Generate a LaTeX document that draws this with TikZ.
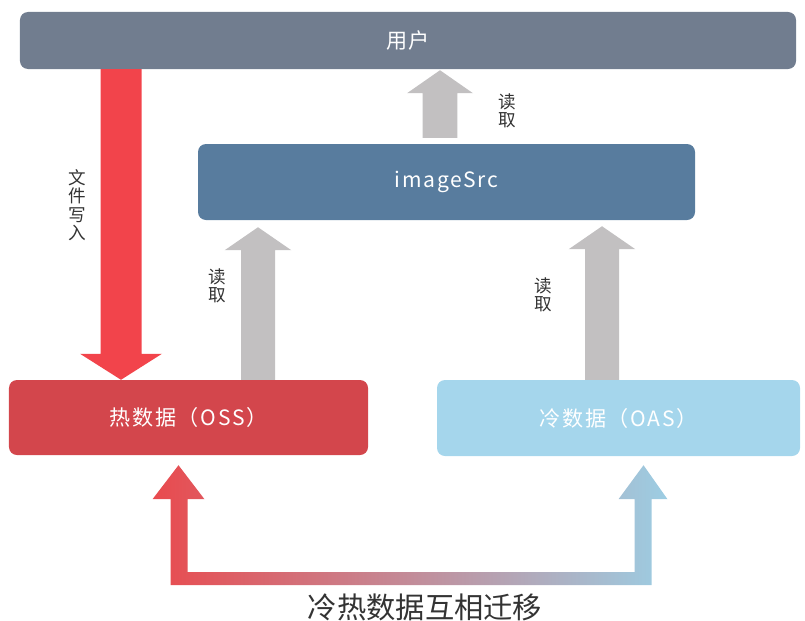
\documentclass[tikz,border=0pt]{standalone}
\usepackage{fontspec}
\setmainfont{Noto Sans CJK SC}
\usetikzlibrary{calc}

\definecolor{userbar}{HTML}{717D8F}
\definecolor{srcblue}{HTML}{587C9E}
\definecolor{hotred}{HTML}{D3464C}
\definecolor{coldblue}{HTML}{A5D6EC}
\definecolor{writered}{HTML}{F2444B}
\definecolor{readgray}{HTML}{C2C0C1}
\definecolor{migred}{HTML}{E94A4E}
\definecolor{miggray}{HTML}{8C8C8C}
\definecolor{migblue}{HTML}{9CCDE3}
\definecolor{labelgray}{HTML}{333333}

\tikzset{
  box/.style={rounded corners=2.4mm, inner sep=0pt, text=white,
    font=\fontsize{18}{20}\selectfont\addfontfeatures{LetterSpace=8}},
  lbl/.style={text=labelgray, align=center, font=\fontsize{15}{15.8}\selectfont},
  writearrow/.style={fill=writered},
  readarrow/.style={fill=readgray},
}

% block arrow: style, from, to, shaft half width, head half width, head length
\newcommand{\bigarrow}[6]{%
  \coordinate (ba) at ($(#3)!#6!(#2)$);
  \fill[#1] ($(#2)!#4!90:(#3)$) -- ($(ba)!#4!90:(#3)$) -- ($(ba)!#5!90:(#3)$) -- (#3)
    -- ($(ba)!#5!-90:(#3)$) -- ($(ba)!#4!-90:(#3)$) -- ($(#2)!#4!-90:(#3)$) -- cycle;}

\begin{document}
\begin{tikzpicture}[x=0.3mm,y=-0.3mm]
\useasboundingbox (0,0) rectangle (805,620);

% boxes
\node[box, fill=userbar, minimum width=232.8mm, minimum height=17.1mm] (user) at (408,40.5) {用户};
\node[box, fill=srcblue, minimum width=149.1mm, minimum height=22.8mm] (img) at (446.5,182) {imageSrc};
\node[box, fill=hotred, minimum width=107.7mm, minimum height=22.5mm] (hot) at (188.5,417.5) {热数据（OSS）};
\node[box, fill=coldblue, minimum width=108.9mm, minimum height=22.8mm] (cold) at (618.5,418) {冷数据（OAS）};

% arrow positions
\coordinate (wx) at (121,0);
\coordinate (ux) at (440,0);
\coordinate (hx) at (258,0);
\coordinate (cx) at (602,0);
\coordinate (u0) at ($(img.north -| ux)+(0,-6)$);
\coordinate (u1) at ($(user.south -| ux)+(0,1)$);
\coordinate (h1) at ($(img.south -| hx)+(0,7)$);
\coordinate (c1) at ($(img.south -| cx)+(0,6)$);

\bigarrow{writearrow}{user.south -| wx}{hot.north -| wx}{6.15mm}{12.3mm}{7.8mm}
\bigarrow{readarrow}{u0}{u1}{5.2mm}{9.9mm}{6.9mm}
\bigarrow{readarrow}{hot.north -| hx}{h1}{5.1mm}{10mm}{6.9mm}
\bigarrow{readarrow}{cold.north -| cx}{c1}{5.1mm}{10mm}{6.9mm}

% migration
\coordinate (ml) at ($(hot.south)+(-10,10)$);
\coordinate (mr) at ($(cold.south)+(25,10)$);
\shade[left color=migred, middle color=miggray, right color=migblue]
  (ml) -- ($(ml)+(26,34)$) -- ($(ml)+(9,34)$) -- ($(ml)+(9,107)$)
  -- ($(ml -| mr)+(-9,107)$) -- ($(ml -| mr)+(-9,34)$) -- ($(ml -| mr)+(-25,34)$)
  -- (ml -| mr) -- ($(ml -| mr)+(24,34)$) -- ($(ml -| mr)+(8,34)$)
  -- ($(ml -| mr)+(8,120)$) -- ($(ml)+(-8,120)$) -- ($(ml)+(-8,34)$)
  -- ($(ml)+(-26,34)$) -- cycle;

% labels
\node[lbl] (wlbl) at (77,205) {文\\件\\写\\入};
\node[lbl] (rlbl1) at (507,111) {读\\取};
\node[lbl] (rlbl2) at (217,286) {读\\取};
\node[lbl] (rlbl3) at (543,295) {读\\取};
\node[text=labelgray, font=\fontsize{25}{26}\selectfont] (cap) at (425,607) {冷热数据互相迁移};
\end{tikzpicture}
\end{document}
